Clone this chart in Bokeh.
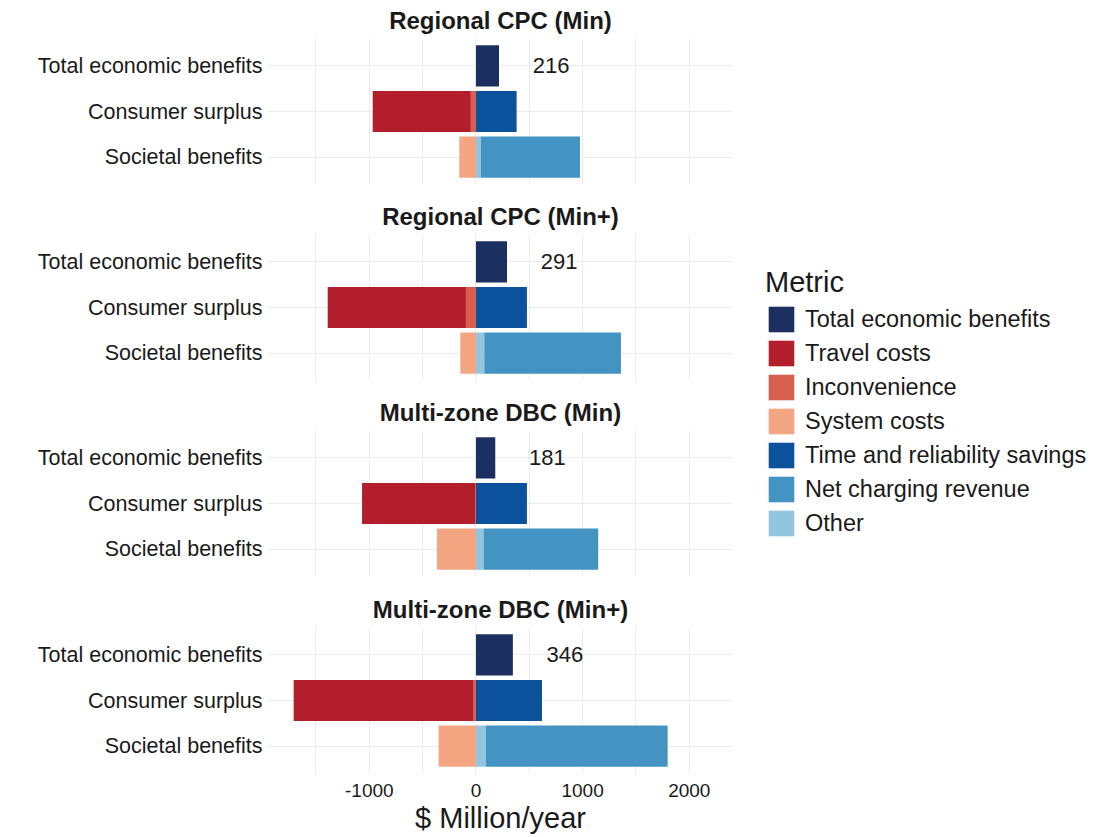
from bokeh.plotting import figure
from bokeh.layouts import row, column
from bokeh.models import (FactorRange, Range1d, FixedTicker, Legend, LegendItem,
                          ColumnDataSource)
from bokeh.core.properties import value
from bokeh.embed import file_html
from bokeh.resources import INLINE

# ---------------- data ----------------
panels = ["Regional CPC (Min)", "Regional CPC (Min+)",
          "Multi-zone DBC (Min)", "Multi-zone DBC (Min+)"]
rows = ["Total economic benefits", "Consumer surplus", "Societal benefits"]
metrics = ["Total economic benefits", "Travel costs", "Inconvenience", "System costs",
           "Time and reliability savings", "Net charging revenue", "Other"]
metric_row = ["Total economic benefits", "Consumer surplus", "Consumer surplus",
              "Societal benefits", "Consumer surplus", "Societal benefits",
              "Societal benefits"]
colors = ["#1b3060", "#b21e2b", "#d6604d", "#f4a582", "#0b519c", "#4393c3", "#92c5de"]

total_benefits = [216, 291, 181, 346]
travel_costs = [-920, -1296, -1059, -1687]
inconvenience = [-48, -94, -9, -22]
system_costs = [-156, -147, -366, -350]
time_savings = [381, 478, 478, 619]
net_charging_revenue = [928, 1281, 1074, 1703]
other = [47, 78, 72, 94]

values = [total_benefits, travel_costs, inconvenience, system_costs,
          time_savings, net_charging_revenue, other]

x_major = [-1000, 0, 1000, 2000]
x_major_labels = ["-1000", "0", "1000", "2000"]
x_minor = [-1500, -500, 500, 1500]
x_limits = (-1945, 2405)

FONT = "Liberation Sans"
TXT = "#1a1a1a"
GRID = "#ebebeb"

tops = [38, 38, 38, 38]
bottoms = [12, 12, 13, 64]
FRAME_H = 146
LEFT = 268
FRAME_W = 464
RIGHT = 8

figs = []
for pi, title in enumerate(panels):
    last = pi == len(panels) - 1
    h = tops[pi] + FRAME_H + bottoms[pi]
    p = figure(width=LEFT + FRAME_W + RIGHT, height=h, output_backend="svg",
               toolbar_location=None,
               y_range=FactorRange(factors=rows[::-1], range_padding=0.1,
                                   range_padding_units="absolute"),
               x_range=Range1d(*x_limits),
               min_border_left=LEFT, min_border_right=RIGHT,
               min_border_top=tops[pi], min_border_bottom=bottoms[pi],
               title=title)
    p.outline_line_color = None
    p.background_fill_color = "white"
    p.border_fill_color = "white"
    p.title.align = "center"
    p.title.text_font = FONT
    p.title.text_font_size = "24px"
    p.title.text_font_style = "bold"
    p.title.text_color = TXT
    p.title.standoff = 9

    # stacked segments (earlier levels farther from zero)
    pos = {r: 0 for r in rows}
    neg = {r: 0 for r in rows}
    ys, lefts, rights, cols = [], [], [], []
    for mi in reversed(range(len(metrics))):
        v = values[mi][pi]
        r = metric_row[mi]
        if v >= 0:
            l, rr = pos[r], pos[r] + v
            pos[r] = rr
        else:
            l, rr = neg[r] + v, neg[r]
            neg[r] = l
        ys.append(r); lefts.append(l); rights.append(rr); cols.append(colors[mi])
    src = ColumnDataSource(dict(y=ys, left=lefts, right=rights, color=cols))
    p.hbar(y="y", left="left", right="right", height=0.9, fill_color="color",
           line_color=None, source=src)

    # total label
    tsrc = ColumnDataSource(dict(x=[total_benefits[pi] + 488], y=[rows[0]],
                                 t=[str(total_benefits[pi])]))
    p.text(x="x", y="y", text="t", source=tsrc, text_font=value(FONT),
           text_font_size="22px", text_color=TXT, text_align="center",
           text_baseline="middle")

    # grids
    p.xgrid.ticker = FixedTicker(ticks=x_major, minor_ticks=x_minor)
    p.xgrid.grid_line_color = GRID
    p.xgrid.grid_line_width = 1
    p.xgrid.minor_grid_line_color = GRID
    p.xgrid.minor_grid_line_width = 1
    p.ygrid.grid_line_color = GRID
    p.ygrid.grid_line_width = 1

    # y axis
    p.yaxis.axis_line_color = None
    p.yaxis.major_tick_line_color = None
    p.yaxis.minor_tick_line_color = None
    p.yaxis.major_tick_out = 0
    p.yaxis.major_label_standoff = 6
    p.yaxis.major_label_text_font = FONT
    p.yaxis.major_label_text_font_size = "21.5px"
    p.yaxis.major_label_text_color = TXT

    # x axis
    if last:
        p.xaxis.ticker = FixedTicker(ticks=x_major, minor_ticks=x_minor)
        p.xaxis.major_label_overrides = dict(zip(x_major, x_major_labels))
        p.xaxis.axis_line_color = None
        p.xaxis.major_tick_line_color = None
        p.xaxis.minor_tick_line_color = None
        p.xaxis.major_tick_out = 0
        p.xaxis.major_label_standoff = 6
        p.xaxis.major_label_text_font = FONT
        p.xaxis.major_label_text_font_size = "19px"
        p.xaxis.major_label_text_color = TXT
        p.xaxis.axis_label = "$ Million/year"
        p.xaxis.axis_label_text_font = FONT
        p.xaxis.axis_label_text_font_size = "29px"
        p.xaxis.axis_label_text_font_style = "normal"
        p.xaxis.axis_label_text_color = TXT
        p.xaxis.axis_label_standoff = 2
    else:
        p.xaxis.visible = False
    figs.append(p)

total_h = sum(tops) + 4 * FRAME_H + sum(bottoms)

# legend figure
lg = figure(width=346, height=total_h, output_backend="svg", toolbar_location=None,
            x_range=Range1d(0, 1), y_range=FactorRange(factors=metrics), min_border=0)
lg.outline_line_color = None
lg.axis.visible = False
lg.grid.visible = False
lsrc = ColumnDataSource(dict(y=metrics, color=colors, zero=[0] * len(metrics)))
lr = lg.hbar(y="y", left="zero", right="zero", height=1, fill_color="color",
             line_color=None, source=lsrc)
items = [LegendItem(label=m, renderers=[lr], index=i) for i, m in enumerate(metrics)]
leg = Legend(items=items, location=(25, total_h - 539), title="Metric",
             title_text_font=FONT, title_text_font_size="29px",
             title_text_font_style="normal", title_text_color=TXT, title_standoff=4,
             label_text_font=FONT, label_text_font_size="23.5px", label_text_color=TXT,
             glyph_width=32, glyph_height=32, label_height=32, spacing=2,
             label_standoff=8, padding=0, margin=0, border_line_color=None,
             background_fill_alpha=0)
lg.add_layout(leg, "center")

layout = row(column(*figs), lg)
open("out.html", "w").write(file_html(layout, INLINE))
